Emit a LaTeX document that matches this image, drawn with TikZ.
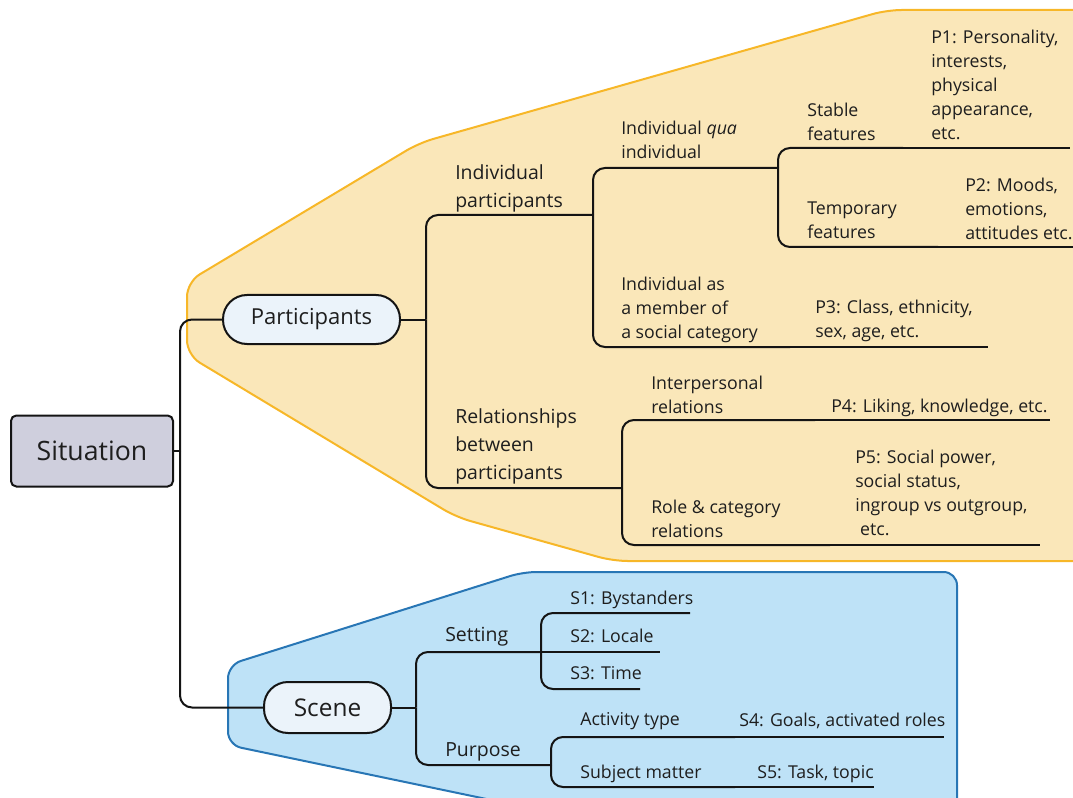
\documentclass[tikz,border=0pt]{standalone}
\usepackage{fontspec}
\setmainfont{Open Sans}
\definecolor{yfill}{RGB}{250,231,185}
\definecolor{ydraw}{RGB}{247,183,40}
\definecolor{bfill}{RGB}{190,226,247}
\definecolor{bdraw}{RGB}{40,118,181}
\definecolor{nfill}{RGB}{235,243,250}
\definecolor{sfill}{RGB}{207,207,221}
\definecolor{linec}{RGB}{20,20,20}
\definecolor{txt}{RGB}{30,30,30}
\begin{document}
\begin{tikzpicture}[x=0.75pt,y=-0.75pt,
  conn/.style={line width=1.5pt, draw=linec, rounded corners=9pt},
  small/.style={anchor=north west, inner sep=0pt, align=left, text=txt, font=\fontsize{13.3}{18}\selectfont},
  med/.style={anchor=north west, inner sep=0pt, align=left, text=txt, font=\fontsize{14.6}{21}\selectfont},
  pill/.style={draw=linec, line width=1.5pt, fill=nfill, rounded corners=18pt, inner sep=0pt, text=txt, font=\fontsize{16.5}{20}\selectfont},
  rootbox/.style={draw=linec, line width=1.5pt, fill=sfill, rounded corners=4pt, inner sep=0pt, text=txt, font=\fontsize{20}{24}\selectfont}]
\useasboundingbox (0,0) rectangle (1073,798);
\begin{scope}
\clip (0,0) rectangle (1073,798);
% yellow region
\draw[fill=yfill, draw=ydraw, line width=1.5pt, rounded corners=11pt]
  (187,320) -- (187,282) -- (419,143) -- (887,10) -- (1095,10) -- (1095,561) -- (613,561) -- (456,517) -- (187,355) -- cycle;
% blue region
\draw[fill=bfill, draw=bdraw, line width=1.5pt, rounded corners=10pt]
  (228,700) -- (228,665) -- (523,572) -- (957,572) -- (957,815) -- (563,815) -- (228,745) -- cycle;
\end{scope}

% main nodes
\node[rootbox, minimum width=121.5pt, minimum height=53.25pt] (sit) at (92,451) {Situation};
\node[pill, minimum width=132.75pt, minimum height=36.75pt] (par) at (311.5,319.5) {Participants};
\node[pill, minimum width=95.25pt, minimum height=38.25pt, font=\fontsize{18.3}{22}\selectfont] (sce) at (327.5,707.5) {Scene};

% junction coordinates
\coordinate (j0) at (180,451);
\coordinate (j1) at (426,319.5);
\coordinate (j2) at (593,215);
\coordinate (j3) at (778,168);
\coordinate (j4) at (622,488);
\coordinate (j5) at (416,707.5);
\coordinate (j6) at (541,652);
\coordinate (j7) at (551,765);
\coordinate (sfE) at (903,148);
\coordinate (p1E) at (1070,148);
\coordinate (tfE) at (938,247);
\coordinate (p2E) at (1073,247);
\coordinate (imE) at (790,347);
\coordinate (p3E) at (988,347);
\coordinate (irE) at (815,420);
\coordinate (p4E) at (1050,420);
\coordinate (rcE) at (830,545);
\coordinate (p5E) at (1040,545);
\coordinate (s1E) at (690,613);
\coordinate (s2E) at (660,652);
\coordinate (s3E) at (640,689);
\coordinate (atE) at (735,737);
\coordinate (s4E) at (944,737);
\coordinate (smE) at (735,787);
\coordinate (s5E) at (874,787);

% connectors
\draw[conn] (sit.east) -- (j0);
\draw[conn] (j0) |- (par.west);
\draw[conn] (j0) |- (sce.west);
\draw[conn] (par.east) -- (j1);
\draw[conn] (j1) |- (j2);
\draw[conn] (j1) |- (j4);
\draw[conn] (j2) |- (j3);
\draw[conn] (j2) |- (imE);
\draw[conn] (imE) -- (p3E);
\draw[conn] (j3) |- (sfE);
\draw[conn] (sfE) -- (p1E);
\draw[conn] (j3) |- (tfE);
\draw[conn] (tfE) -- (p2E);
\draw[conn] (j4) |- (irE);
\draw[conn] (irE) -- (p4E);
\draw[conn] (j4) |- (rcE);
\draw[conn] (rcE) -- (p5E);
\draw[conn] (sce.east) -- (j5);
\draw[conn] (j5) |- (j6);
\draw[conn] (j5) |- (j7);
\draw[conn] (j6) |- (s1E);
\draw[conn] (j6) -- (s2E);
\draw[conn] (j6) |- (s3E);
\draw[conn] (j7) |- (atE);
\draw[conn] (atE) -- (s4E);
\draw[conn] (j7) |- (smE);
\draw[conn] (smE) -- (s5E);

% labels
\node[med] (lip) at (455,164) {Individual\\participants};
\node[med] (lrb) at (455,408) {Relationships\\between\\participants};
\node[small] (liq) at (621,120.5) {Individual \textit{qua}\\individual};
\node[small] (lim) at (621,276.5) {Individual as\\a member of\\a social category};
\node[small] (lsf) at (807,102.5) {Stable\\features};
\node[small] (ltf) at (807,202) {Temporary\\features};
\node[small] (lp1) at (931,29.5) {P1: Personality,\\interests,\\physical\\appearance,\\etc.};
\node[small] (lp2) at (965,177.5) {P2: Moods,\\emotions,\\attitudes etc.};
\node[small] (lp3) at (815,299.5) {P3: Class, ethnicity,\\sex, age, etc.};
\node[small] (lir) at (651,375.5) {Interpersonal\\relations};
\node[small] (lp4) at (831,398.5) {P4: Liking, knowledge, etc.};
\node[small] (lrc) at (651,499.5) {Role \& category\\relations};
\node[small] (lp5) at (855,449.5) {P5: Social power,\\social status,\\ingroup vs outgroup,\\\hspace*{0.28em}etc.};
\node[med] (lse) at (445,627) {Setting};
\node[med] (lpu) at (445,742) {Purpose};
\node[small] (ls1) at (570,590.5) {S1: Bystanders};
\node[small] (ls2) at (570,628.5) {S2: Locale};
\node[small] (ls3) at (570,666.5) {S3: Time};
\node[small] (lat) at (580,712.5) {Activity type};
\node[small] (ls4) at (739,712.5) {S4: Goals, activated roles};
\node[small] (lsm) at (580,764.5) {Subject matter};
\node[small] (ls5) at (757,764.5) {S5: Task, topic};
\end{tikzpicture}
\end{document}
